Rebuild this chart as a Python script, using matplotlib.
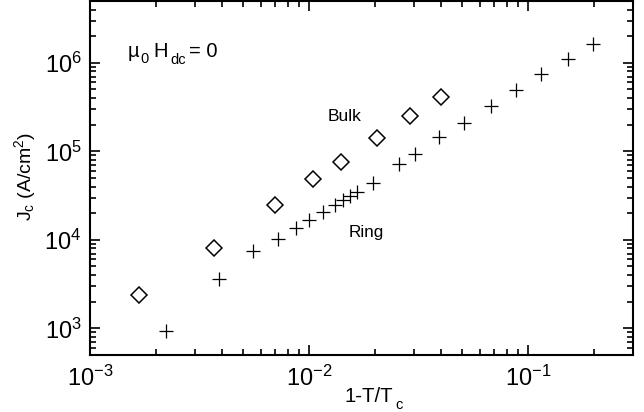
import matplotlib
matplotlib.use("Agg")
import matplotlib.pyplot as plt
from matplotlib.ticker import LogLocator, NullFormatter

plt.rcParams['font.family'] = ['Liberation Sans', 'DejaVu Sans']
plt.rcParams['mathtext.fontset'] = 'custom'
plt.rcParams['mathtext.rm'] = 'Liberation Sans'
plt.rcParams['mathtext.it'] = 'Liberation Sans'

# bulk sample (diamonds)
bulk_t = [1.67e-3, 3.68e-3, 6.97e-3, 1.04e-2, 1.39e-2, 2.03e-2, 2.88e-2, 3.98e-2]
bulk_jc = [2.37e3, 8.1e3, 2.5e4, 4.93e4, 7.6e4, 1.42e5, 2.48e5, 4.1e5]

# ring sample (crosses)
ring_t = [2.22e-3, 3.87e-3, 5.55e-3, 7.21e-3, 8.68e-3, 1.0e-2, 1.156e-2, 1.306e-2,
          1.426e-2, 1.53e-2, 1.646e-2, 1.945e-2, 2.58e-2, 3.03e-2, 3.90e-2,
          5.07e-2, 6.73e-2, 8.81e-2, 0.1146, 0.1518, 0.197]
ring_jc = [933, 3.62e3, 7.42e3, 1.03e4, 1.35e4, 1.66e4, 2.06e4, 2.45e4,
           2.79e4, 3.09e4, 3.45e4, 4.44e4, 7.21e4, 9.35e4, 1.44e5,
           2.10e5, 3.27e5, 4.91e5, 7.44e5, 1.115e6, 1.62e6]

W, H = 644, 412
fig = plt.figure(figsize=(W / 100, H / 100), dpi=100)
ax = fig.add_axes([90 / W, 1 - 355 / H, (633 - 90) / W, (355 - 1) / H])


def px(x, y):
    # pixel position (from top-left) -> figure fraction
    return x / W, 1 - y / H


ax.plot(bulk_t, bulk_jc, linestyle='none', marker='D', markersize=8.6,
        markerfacecolor='white', markeredgecolor='black', markeredgewidth=1.1)
ax.plot(ring_t, ring_jc, linestyle='none', marker='+', markersize=9.5,
        color='black', markeredgewidth=0.9)

ax.set_xscale('log')
ax.set_yscale('log')
ax.set_xlim(1e-3, 0.3)
ax.set_ylim(5e2, 5e6)

for a in (ax.xaxis, ax.yaxis):
    a.set_major_locator(LogLocator(base=10, numticks=10))
    a.set_minor_locator(LogLocator(base=10, subs=range(2, 10), numticks=10))
    a.set_minor_formatter(NullFormatter())

ax.tick_params(which='both', direction='in', top=True, right=True, width=1.2)
ax.tick_params(which='major', length=7, labelsize=17)
ax.tick_params(axis='x', which='major', pad=8)
ax.tick_params(axis='y', which='major', pad=6)
ax.tick_params(which='minor', length=4)
for s in ax.spines.values():
    s.set_linewidth(1.5)

# axis titles
fig.text(*px(345, 402), '1-T/T', fontsize=14.6, va='baseline', ha='left')
fig.text(*px(395, 409), 'c', fontsize=10.5, va='baseline', ha='left')
fig.text(*px(31, 176), 'J$_\\mathregular{c}$ (A/cm$^\\mathregular{2}$)', fontsize=14,
         rotation=90, rotation_mode='anchor', va='baseline', ha='center')

# field annotation
fig.text(*px(128, 57), '\u00b5', fontsize=14.5, va='baseline', ha='left')
fig.text(*px(140.5, 63), '0', fontsize=10.5, va='baseline', ha='left')
fig.text(*px(153, 57), 'H', fontsize=14.5, va='baseline', ha='left')
fig.text(*px(170, 64), 'dc', fontsize=10.5, va='baseline', ha='left')
fig.text(*px(189, 57), '= 0', fontsize=14.5, va='baseline', ha='left')

fig.text(*px(328, 121.5), 'Bulk', fontsize=12.5, va='baseline', ha='left')
fig.text(*px(349, 236.5), 'Ring', fontsize=12.3, va='baseline', ha='left')

fig.savefig('out.png', dpi=100)
